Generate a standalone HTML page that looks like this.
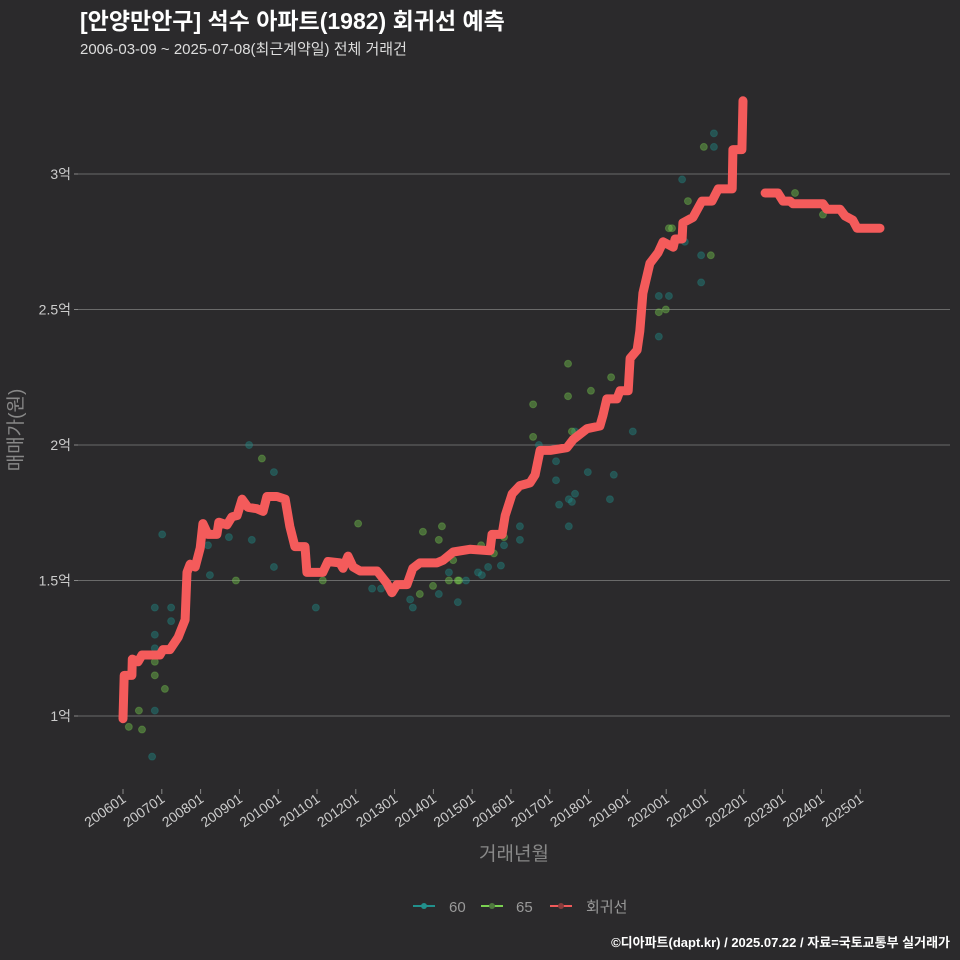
<!DOCTYPE html>
<html><head><meta charset="utf-8">
<style>
html,body{margin:0;padding:0;background:#2b2a2c;}
svg{display:block;font-family:"Liberation Sans","Noto Sans CJK KR",sans-serif;}
</style></head>
<body>
<svg id="chart" width="960" height="960" viewBox="0 0 960 960">
<rect width="960" height="960" fill="#2b2a2c"/>
<text x="80" y="29" fill="#ffffff" font-size="23" font-weight="bold">[안양만안구] 석수 아파트(1982) 회귀선 예측</text>
<text x="80" y="54" fill="#dddddd" font-size="15">2006-03-09 ~ 2025-07-08(최근계약일) 전체 거래건</text>
<g id="grid"></g>
<g id="yaxis"></g>
<g id="xaxis"></g>
<g id="points"></g>
<g id="lines"></g>
<text transform="translate(22,430) rotate(-90)" text-anchor="middle" fill="#888888" font-size="19">매매가(원)</text>
<text x="514" y="860" text-anchor="middle" fill="#888888" font-size="19">거래년월</text>
<g>
  <g>
    <line x1="413" y1="906" x2="435" y2="906" stroke="#21908c" stroke-width="2"/>
    <circle cx="424" cy="906" r="3" fill="#21908c"/>
    <text x="449" y="912" fill="#999999" font-size="15">60</text>
  </g>
  <g>
    <line x1="481" y1="906" x2="503" y2="906" stroke="#7ad151" stroke-width="2"/>
    <circle cx="492" cy="906" r="3" fill="#4f7a3e"/>
    <text x="516" y="912" fill="#999999" font-size="15">65</text>
  </g>
  <g>
    <line x1="550" y1="906" x2="572" y2="906" stroke="#f05a5a" stroke-width="2"/>
    <circle cx="561" cy="906" r="3" fill="#8a3c3c"/>
    <text x="586" y="912" fill="#999999" font-size="15">회귀선</text>
  </g>
</g>
<text x="950" y="947" text-anchor="end" fill="#ffffff" font-size="13" font-weight="bold">©디아파트(dapt.kr) / 2025.07.22 / 자료=국토교통부 실거래가</text>
</svg>
<script>
const yTicks = [1, 1.5, 2, 2.5, 3];
const yTickLabels = ["1억", "1.5억", "2억", "2.5억", "3억"];
const xTickYears = [2006,2007,2008,2009,2010,2011,2012,2013,2014,2015,2016,2017,2018,2019,2020,2021,2022,2023,2024,2025];
const xTickLabels = ["200601","200701","200801","200901","201001","201101","201201","201301","201401","201501","201601","201701","201801","201901","202001","202101","202201","202301","202401","202501"];

const lineT = [2006.00,2006.03,2006.23,2006.24,2006.39,2006.49,2006.95,2007.03,2007.21,2007.42,2007.60,2007.65,2007.73,2007.86,2007.99,2008.06,2008.19,2008.42,2008.47,2008.68,2008.81,2008.94,2009.07,2009.22,2009.45,2009.61,2009.71,2009.97,2010.18,2010.30,2010.43,2010.69,2010.74,2011.15,2011.28,2011.59,2011.67,2011.80,2011.93,2012.11,2012.55,2012.80,2012.93,2013.06,2013.32,2013.47,2013.65,2014.09,2014.25,2014.51,2014.94,2015.46,2015.51,2015.77,2015.85,2016.03,2016.23,2016.49,2016.62,2016.75,2017.01,2017.44,2017.60,2017.96,2018.29,2018.37,2018.47,2018.73,2018.81,2019.02,2019.07,2019.25,2019.32,2019.40,2019.58,2019.79,2019.92,2020.18,2020.23,2020.41,2020.43,2020.69,2020.92,2021.18,2021.34,2021.70,2021.72,2021.95,2021.98,
 2022.55,2022.88,2023.01,2023.19,2023.27,2024.04,2024.14,2024.48,2024.61,2024.81,2024.92,2025.51];
const lineV = [0.99,1.15,1.15,1.21,1.20,1.225,1.225,1.245,1.245,1.29,1.355,1.53,1.56,1.55,1.62,1.71,1.67,1.67,1.715,1.705,1.735,1.74,1.80,1.77,1.765,1.755,1.81,1.81,1.80,1.70,1.625,1.625,1.53,1.53,1.57,1.565,1.545,1.59,1.55,1.535,1.535,1.49,1.455,1.485,1.485,1.545,1.565,1.565,1.575,1.605,1.615,1.61,1.67,1.67,1.74,1.82,1.85,1.86,1.89,1.98,1.98,1.99,2.02,2.06,2.07,2.11,2.17,2.17,2.20,2.20,2.32,2.35,2.42,2.56,2.67,2.71,2.75,2.73,2.76,2.76,2.82,2.84,2.90,2.90,2.945,2.945,3.09,3.09,3.27,
 2.93,2.93,2.90,2.90,2.89,2.89,2.87,2.87,2.845,2.83,2.80,2.80];
const lineSeg = [0,0,0,0,0,0,0,0,0,0,0,0,0,0,0,0,0,0,0,0,0,0,0,0,0,0,0,0,0,0,0,0,0,0,0,0,0,0,0,0,0,0,0,0,0,0,0,0,0,0,0,0,0,0,0,0,0,0,0,0,0,0,0,0,0,0,0,0,0,0,0,0,0,0,0,0,0,0,0,0,0,0,0,0,0,0,0,0,0,
 1,1,1,1,1,1,1,1,1,1,1,1];

const s60T = [2009.25,2009.89,2007.01,2008.73,2009.32,2008.19,2009.89,2008.24,2010.97,2006.82,2007.24,2007.24,2006.82,2006.82,2006.82,2006.75,2012.42,2012.65,2013.40,2013.47,2014.14,2014.40,2014.63,2014.84,2015.15,2015.25,2015.41,2015.74,2015.82,2016.23,2016.23,2016.72,2017.16,2017.16,2017.24,2017.65,2017.49,2017.57,2017.65,2017.49,2017.98,2018.55,2018.65,2019.14,2019.81,2020.07,2019.81,2020.48,2020.41,2020.90,2020.90,2021.23,2021.23];
const s60V = [2.00,1.90,1.67,1.66,1.65,1.63,1.55,1.52,1.40,1.40,1.40,1.35,1.30,1.25,1.02,0.85,1.47,1.47,1.43,1.40,1.45,1.53,1.42,1.50,1.53,1.52,1.55,1.555,1.63,1.70,1.65,2.00,1.94,1.87,1.78,2.05,1.80,1.79,1.82,1.70,1.90,1.80,1.89,2.05,2.55,2.55,2.40,2.75,2.98,2.70,2.60,3.10,3.15];
const s65T = [2009.58,2012.06,2008.91,2011.15,2006.82,2006.82,2007.08,2006.41,2006.15,2006.49,2013.65,2013.99,2013.73,2014.22,2014.14,2014.40,2014.63,2014.51,2014.66,2015.23,2015.56,2015.82,2016.57,2016.57,2017.47,2017.47,2017.57,2018.06,2018.58,2019.81,2019.99,2020.07,2020.15,2020.56,2021.15,2020.97,2023.32,2024.04];
const s65V = [1.95,1.71,1.50,1.50,1.20,1.15,1.10,1.02,0.96,0.95,1.45,1.48,1.68,1.70,1.65,1.50,1.50,1.575,1.50,1.63,1.60,1.66,2.15,2.03,2.30,2.18,2.05,2.20,2.25,2.49,2.50,2.80,2.80,2.90,2.70,3.10,2.93,2.85];

const NS = "http://www.w3.org/2000/svg";
function xS(t){ return 123 + (t - 2006) * 38.8; }
function yS(v){ return 716 - (v - 1) * 271; }
function mk(tag, attrs, parent){
  const el = document.createElementNS(NS, tag);
  for (const k in attrs) el.setAttribute(k, attrs[k]);
  parent.appendChild(el);
  return el;
}
const grid = document.getElementById('grid');
const yaxis = document.getElementById('yaxis');
const xaxis = document.getElementById('xaxis');
const pts = document.getElementById('points');
const lines = document.getElementById('lines');

yTicks.forEach((v, i) => {
  const g = mk('line', {x1: 78, x2: 950, y1: yS(v), y2: yS(v), stroke: '#6a6a6a', 'stroke-width': 1}, grid);
  
  
  const tk = mk('line', {x1: 74, x2: 78, y1: yS(v), y2: yS(v), stroke: '#888', 'stroke-width': 1}, yaxis);
  
  
  const t = mk('text', {x: 71, y: yS(v) + 5, 'text-anchor': 'end', fill: '#cccccc', 'font-size': 14}, yaxis);
  t.textContent = yTickLabels[i];
  
  
});

xTickYears.forEach((yr, i) => {
  const x = xS(yr);
  const tk = mk('line', {x1: x, x2: x, y1: 789, y2: 794, stroke: '#888', 'stroke-width': 1}, xaxis);
  
  
  const t = mk('text', {x: 0, y: 0, 'text-anchor': 'end', fill: '#cccccc', 'font-size': 14, transform: 'translate(' + (x + 4) + ',801) rotate(-35)'}, xaxis);
  t.textContent = xTickLabels[i];
  
  
});

s60T.forEach((t, i) => {
  const c = mk('circle', {cx: xS(t), cy: yS(s60V[i]), r: 3.5, fill: '#21908c', 'fill-opacity': 0.4, stroke: '#21908c', 'stroke-opacity': 0.3}, pts);
  
  
});
s65T.forEach((t, i) => {
  const c = mk('circle', {cx: xS(t), cy: yS(s65V[i]), r: 3.5, fill: '#7ad151', 'fill-opacity': 0.4, stroke: '#7ad151', 'stroke-opacity': 0.3}, pts);
  
  
});

const segs = {};
lineT.forEach((t, i) => {
  const s = lineSeg[i];
  (segs[s] = segs[s] || []).push(xS(t).toFixed(1) + ',' + yS(lineV[i]).toFixed(1));
});
Object.keys(segs).forEach(k => {
  const p = mk('polyline', {points: segs[k].join(' '), fill: 'none', stroke: '#f45b5b', 'stroke-width': 9, 'stroke-linejoin': 'round', 'stroke-linecap': 'round'}, lines);
  
  
});
</script>
</body></html>
